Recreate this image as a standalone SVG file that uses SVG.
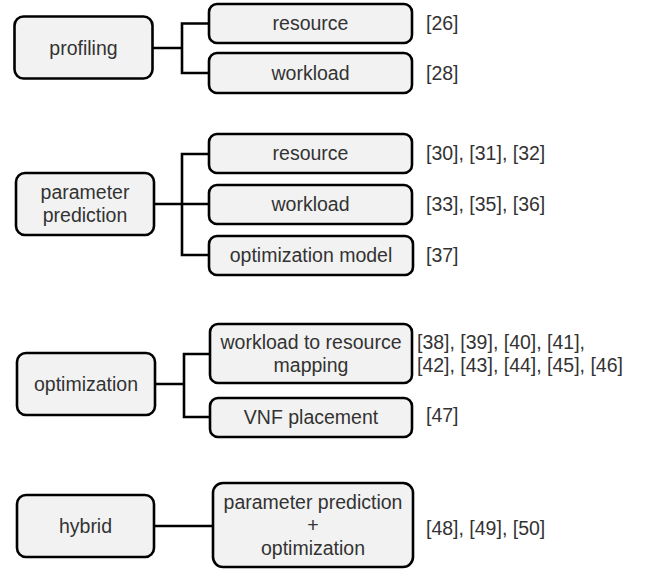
<svg xmlns="http://www.w3.org/2000/svg" width="645" height="570" viewBox="0 0 645 570">
<style>
.box{fill:#f2f2f2;stroke:#000;stroke-width:2.6}
.t{font-family:"Liberation Sans",Arial,sans-serif;font-size:19.5px;fill:#333;text-anchor:middle}
.r{font-family:"Liberation Sans",Arial,sans-serif;font-size:19.5px;fill:#333}
.c{fill:none;stroke:#000;stroke-width:2.6}
</style>
<rect width="645" height="570" fill="#fff"/>
<g id="connectors">
<path class="c" d="M153,48H182M209,23.5H182V73H209"/>
<path class="c" d="M154,204H209M209,154H182V255H209"/>
<path class="c" d="M155,384H184M210,354H184V417H210"/>
<path class="c" d="M154,526H213"/>
</g>
<g id="profiling"><rect class="box" x="14.5" y="16.5" width="138" height="62" rx="9"/><text class="t" x="83.5" y="54.5">profiling</text></g>
<g id="prof-resource"><rect class="box" x="209" y="4" width="203" height="39" rx="8"/><text class="t" x="310.5" y="30">resource</text></g>
<g id="prof-workload"><rect class="box" x="209" y="53" width="203" height="40" rx="8"/><text class="t" x="310.5" y="80">workload</text></g>
<text class="r" x="426" y="30">[26]</text>
<text class="r" x="426" y="80">[28]</text>

<g id="parameter-prediction"><rect class="box" x="16" y="173" width="138" height="62" rx="9"/><text class="t" x="85" y="199">parameter</text><text class="t" x="85" y="222">prediction</text></g>
<g id="pp-resource"><rect class="box" x="209" y="134" width="203" height="39" rx="8"/><text class="t" x="310.5" y="160">resource</text></g>
<g id="pp-workload"><rect class="box" x="209" y="185" width="203" height="39" rx="8"/><text class="t" x="310.5" y="211">workload</text></g>
<g id="pp-optmodel"><rect class="box" x="209" y="236" width="204" height="39" rx="8"/><text class="t" x="311" y="262">optimization model</text></g>
<text class="r" x="426" y="160">[30], [31], [32]</text>
<text class="r" x="426" y="211">[33], [35], [36]</text>
<text class="r" x="426" y="262">[37]</text>

<g id="optimization"><rect class="box" x="17" y="353" width="138" height="62" rx="9"/><text class="t" x="86" y="391">optimization</text></g>
<g id="opt-mapping"><rect class="box" x="210" y="324" width="202" height="59" rx="8"/><text class="t" x="311" y="349">workload to resource</text><text class="t" x="311" y="372">mapping</text></g>
<g id="opt-vnf"><rect class="box" x="210" y="398" width="202" height="39" rx="8"/><text class="t" x="311" y="424">VNF placement</text></g>
<text class="r" x="417" y="349">[38], [39], [40], [41],</text>
<text class="r" x="417" y="372">[42], [43], [44], [45], [46]</text>
<text class="r" x="426" y="422">[47]</text>

<g id="hybrid"><rect class="box" x="17" y="495" width="137" height="62" rx="9"/><text class="t" x="85.5" y="533">hybrid</text></g>
<g id="hyb-ppo"><rect class="box" x="213" y="483" width="200" height="84" rx="10"/><text class="t" x="313" y="509">parameter prediction</text><text class="t" x="313" y="532">+</text><text class="t" x="313" y="555">optimization</text></g>
<text class="r" x="426" y="535">[48], [49], [50]</text>
</svg>
